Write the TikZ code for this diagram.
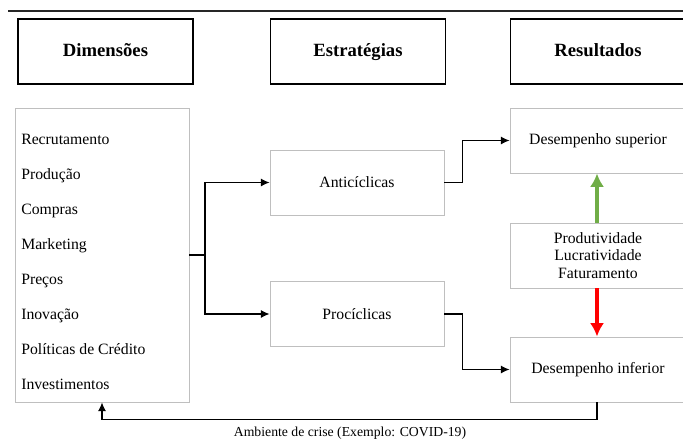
\documentclass[tikz,border=0pt]{standalone}
\usepackage{fontspec}
\setmainfont{Liberation Serif}
\usetikzlibrary{arrows.meta}
\definecolor{boxgray}{HTML}{BFBFBF}
\definecolor{upgreen}{HTML}{70AD47}
\definecolor{downred}{HTML}{FF0000}
\begin{document}
\begin{tikzpicture}[x=0.75pt,y=-0.75pt]

\tikzset{>={Latex[length=6.5pt,width=6pt]}}
\tikzset{head/.style={draw=black,line width=1.2pt,minimum width=131.25pt,minimum height=48.75pt,
    text height=10.5pt,text depth=2.5pt,font=\fontsize{14}{16}\selectfont\bfseries},
  box/.style={draw=boxgray,line width=0.7pt,minimum width=130.5pt,minimum height=48.75pt,
    align=center,font=\fontsize{11.8}{13.1}\selectfont},
  item/.style={anchor=base west,inner sep=0pt,font=\fontsize{11.8}{14}\selectfont},
  link/.style={line width=0.8pt},
  trend/.style={line width=2.3pt,-{Latex[length=10pt,width=10.5pt]}}}
\def\itemX{21}

\useasboundingbox (0,0) rectangle (683,443);
\clip (0,0) rectangle (683,443);

\draw[line width=1.3pt,black!85] (8,11) -- (690,11);

% headers
\draw (105.5,51.5) node[head] (hdim) {Dimensões};
\draw (358,51.5) node[head] (hest) {Estratégias};
\draw (598,51.5) node[head] (hres) {Resultados};

% dimensions
\draw (102,255) node[box,minimum height=220.5pt] (dims) {};
\draw (\itemX,144) node[item] (rec) {Recrutamento};
\draw (\itemX,179) node[item] (prodc) {Produção};
\draw (\itemX,214) node[item] (comp) {Compras};
\draw (\itemX,249) node[item] (mkt) {Marketing};
\draw (\itemX,284) node[item] (prec) {Preços};
\draw (\itemX,319) node[item] (inov) {Inovação};
\draw (\itemX,354) node[item] (cred) {Políticas de Crédito};
\draw (\itemX,389) node[item] (inv) {Investimentos};

% strategies
\draw (357,182.5) node[box] (anti) {Anticíclicas};
\draw (357,314) node[box] (proc) {Procíclicas};

% results
\draw (598,140.5) node[box,minimum width=132pt] (dsup) {Desempenho superior};
\draw (598,255.5) node[box,minimum width=132pt] (prod) {Produtividade\\Lucratividade\\Faturamento};
\draw (598,369.5) node[box,minimum width=132pt] (dinf) {Desempenho inferior};

\coordinate (split) at (205,255);
\draw[link] (dims.east) -- (split);
\draw[link,->] (split) |- (anti.west);
\draw[link,->] (split) |- (proc.west);

\draw[link,->] (anti.east) -- ++(18,0) |- (dsup.west);
\draw[link,->] (proc.east) -- ++(18,0) |- (dinf.west);

\draw[trend,upgreen] (prod.north -| 597,0) -- (dsup.south -| 597,0);
\draw[trend,downred] (prod.south -| 597,0) -- (dinf.north -| 597,0);

\draw[link,->] (dinf.south -| 597,0) -- ++(0,17) -| (dims.south);
\draw (350,433) node[font=\fontsize{10.3}{12}\selectfont] (crise) {Ambiente de crise (Exemplo: COVID-19)};

\end{tikzpicture}
\end{document}
